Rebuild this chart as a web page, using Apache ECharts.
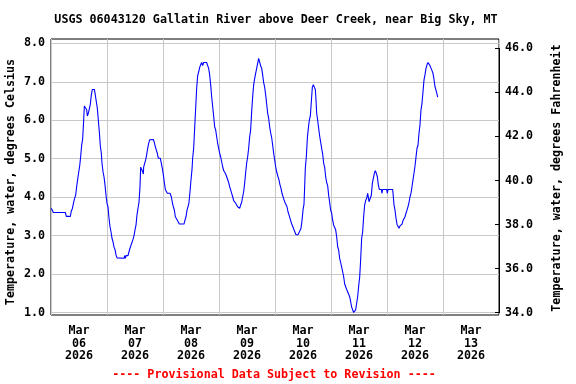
<!DOCTYPE html>
<html><head><meta charset="utf-8">
<script src="https://cdn.jsdelivr.net/npm/echarts@6/dist/echarts.min.js"></script>
<style>html,body{margin:0;padding:0;background:#fff}#c{width:576px;height:384px}</style>
</head><body><div id="c"></div>
<script>
const titleText = 'USGS 06043120 Gallatin River above Deer Creek, near Big Sky, MT';
const leftAxisName = 'Temperature, water, degrees Celsius';
const rightAxisName = 'Temperature, water, degrees Fahrenheit';
const footerText = '---- Provisional Data Subject to Revision ----';
const dayLabels = ['Mar\n06\n2026','Mar\n07\n2026','Mar\n08\n2026','Mar\n09\n2026','Mar\n10\n2026','Mar\n11\n2026','Mar\n12\n2026','Mar\n13\n2026'];
// hours since 2026-03-06 00:00
const hours = [0.14,1.0,6.14,6.57,8.29,8.71,9.14,9.57,10.0,10.57,11.0,11.43,11.86,12.29,12.71,13.14,13.57,14.0,14.29,14.71,15.29,15.57,16.0,16.43,16.86,17.29,17.71,18.57,19.0,19.43,19.86,20.29,20.71,21.14,21.57,21.86,22.29,22.71,23.14,23.57,24.0,24.43,24.86,25.29,25.71,26.14,26.57,27.0,27.43,27.86,28.29,28.71,31.29,31.57,31.86,32.14,33.0,33.43,33.86,34.29,34.71,35.14,35.57,36.0,36.43,36.86,37.29,37.71,38.14,38.43,38.86,39.29,39.57,39.71,40.14,40.57,41.0,41.43,41.86,42.29,42.71,43.86,44.29,44.71,45.14,45.57,46.0,46.86,47.29,47.71,48.14,48.57,49.0,49.43,49.86,51.0,51.57,52.0,52.43,52.86,53.29,53.71,54.14,54.57,55.0,57.0,57.43,57.86,58.29,58.71,59.14,59.57,60.0,60.43,60.71,61.14,61.57,62.0,62.43,62.86,63.29,63.71,64.14,64.57,65.0,65.43,66.71,67.14,67.57,68.0,68.43,68.86,69.29,69.71,70.14,70.57,71.0,71.43,71.86,72.29,72.71,73.14,73.57,74.0,74.43,74.86,75.29,75.71,76.14,76.57,77.0,77.43,77.86,78.29,78.71,79.14,79.57,80.0,80.43,80.86,81.29,81.71,82.14,82.57,83.0,83.43,83.86,84.29,84.71,85.14,85.57,86.0,86.43,86.86,87.29,87.71,88.14,88.57,89.0,89.43,89.86,90.29,90.71,91.14,91.57,92.0,92.43,92.86,93.29,93.71,94.14,94.57,95.0,95.43,95.86,96.29,96.71,97.29,97.71,98.14,98.57,99.0,99.43,99.86,100.29,100.71,101.14,101.57,102.0,102.43,102.86,103.29,103.71,104.14,104.57,105.0,105.86,106.29,106.71,107.14,107.57,108.0,108.43,108.71,109.0,109.43,109.86,110.29,110.71,111.14,111.57,112.0,112.43,112.86,113.29,113.57,113.86,114.29,114.71,115.14,115.57,116.0,116.43,116.86,117.29,117.71,118.14,118.57,119.0,119.43,119.86,120.29,120.71,121.14,121.57,122.0,122.43,122.86,123.29,123.71,124.14,124.57,125.0,125.43,125.86,126.29,126.71,127.14,127.57,128.0,128.43,128.86,129.29,129.71,130.14,130.57,131.0,131.43,131.86,132.29,132.71,133.14,133.57,134.0,134.43,134.86,135.29,135.71,136.0,136.29,136.71,137.0,137.29,137.71,138.14,138.57,139.0,139.43,139.86,140.29,140.71,141.57,141.86,142.14,143.86,144.14,144.43,146.43,146.71,147.0,147.43,147.86,148.29,148.71,149.14,149.57,150.0,150.43,150.86,151.29,151.71,152.14,152.57,153.0,153.43,153.86,154.29,154.71,155.14,155.57,156.0,156.43,156.86,157.29,157.71,158.14,158.57,159.0,159.43,159.86,160.29,160.71,161.14,161.57,162.0,162.43,162.86,163.29,163.71,164.14,164.57,165.0,165.43,165.71];
const tempC = [3.71,3.60,3.60,3.50,3.50,3.64,3.70,3.74,3.94,4.05,4.27,4.46,4.64,4.81,5.05,5.35,5.51,6.00,6.37,6.42,6.27,6.11,6.18,6.22,6.42,6.66,6.80,6.80,6.65,6.48,6.31,6.00,5.70,5.33,5.14,4.88,4.66,4.53,4.32,4.05,3.84,3.75,3.45,3.23,3.10,2.93,2.84,2.70,2.64,2.50,2.42,2.41,2.41,2.48,2.41,2.48,2.48,2.58,2.67,2.75,2.80,2.90,2.99,3.15,3.27,3.54,3.71,3.86,4.27,4.78,4.81,4.66,4.60,4.78,4.88,4.97,5.10,5.27,5.40,5.49,5.50,5.50,5.42,5.31,5.22,5.14,5.01,5.01,4.88,4.75,4.58,4.38,4.20,4.17,4.10,4.10,4.01,3.86,3.75,3.66,3.49,3.45,3.40,3.38,3.30,3.30,3.40,3.49,3.66,3.75,3.86,4.14,4.45,4.72,5.01,5.27,5.79,6.31,6.83,7.16,7.26,7.37,7.44,7.50,7.42,7.50,7.50,7.42,7.35,7.18,6.92,6.61,6.35,6.11,5.83,5.75,5.57,5.40,5.27,5.14,5.05,4.92,4.79,4.69,4.64,4.60,4.53,4.49,4.38,4.27,4.19,4.10,4.01,3.91,3.86,3.84,3.80,3.75,3.71,3.71,3.80,3.86,4.01,4.14,4.36,4.64,4.88,5.05,5.27,5.57,5.75,6.22,6.61,6.92,7.09,7.22,7.35,7.48,7.61,7.58,7.41,7.35,7.18,6.98,6.86,6.66,6.42,6.18,6.05,5.83,5.67,5.55,5.35,5.14,4.97,4.79,4.66,4.53,4.45,4.32,4.23,4.10,4.05,3.93,3.86,3.83,3.75,3.62,3.54,3.45,3.36,3.28,3.23,3.15,3.10,3.02,3.02,3.06,3.13,3.19,3.39,3.66,3.82,4.27,4.75,5.05,5.53,5.79,6.00,6.11,6.48,6.86,6.92,6.86,6.80,6.53,6.18,6.00,5.79,5.59,5.57,5.27,5.12,4.88,4.78,4.53,4.38,4.30,4.05,3.86,3.66,3.58,3.40,3.27,3.23,3.15,2.97,2.71,2.62,2.41,2.30,2.28,2.06,1.93,1.74,1.67,1.60,1.54,1.50,1.41,1.28,1.14,1.07,1.00,1.02,1.07,1.24,1.41,1.69,1.92,2.37,2.93,3.10,3.49,3.80,3.91,3.97,4.10,4.00,3.88,3.88,3.83,4.05,4.36,4.49,4.62,4.69,4.62,4.53,4.32,4.20,4.20,4.10,4.20,4.20,4.10,4.20,4.20,4.01,3.80,3.66,3.45,3.29,3.25,3.19,3.25,3.25,3.30,3.39,3.40,3.49,3.58,3.66,3.75,3.86,4.01,4.10,4.27,4.45,4.62,4.81,5.04,5.27,5.35,5.66,5.88,6.27,6.44,6.74,7.05,7.18,7.35,7.44,7.50,7.46,7.42,7.40,7.29,7.22,7.06,6.87,6.78,6.68,6.60];

const FONT = 'DejaVu Sans Mono';
const txt = {fontFamily: FONT, fontWeight: 'bold', fontSize: 11.7, color: '#000'};
const grey = '#c8c8c8';

const chart = echarts.init(document.getElementById('c'), null, {renderer: 'canvas'});
chart.setOption({
  animation: false,
  backgroundColor: '#fff',
  grid: [
    {left: 51, right: 77, top: 39, bottom: 69, show: true, borderColor: '#000', borderWidth: 1, backgroundColor: 'rgba(0,0,0,0)'},
    {left: 51, right: 77, top: 43.3, bottom: 71.5},
    {left: 51, right: 77, top: 48.3, bottom: 71.3}
  ],
  xAxis: [
    {gridIndex: 0, type: 'category', data: dayLabels, boundaryGap: true,
     axisLine: {show: false}, axisTick: {show: false},
     splitLine: {show: true, interval: 0, lineStyle: {color: grey, width: 1}},
     axisLabel: Object.assign({interval: 0, margin: 10, lineHeight: 12.5}, txt)},
    {gridIndex: 1, type: 'value', min: 0, max: 192, show: false},
    {gridIndex: 2, type: 'value', min: 0, max: 1, show: false}
  ],
  yAxis: [
    {gridIndex: 0, type: 'value', min: 0, max: 1, show: false},
    {gridIndex: 1, type: 'value', min: 1, max: 8, interval: 1,
     axisLine: {show: false, onZero: false}, axisTick: {show: false},
     splitLine: {show: true, lineStyle: {color: grey, width: 1}},
     axisLabel: Object.assign({margin: 6, formatter: v => v.toFixed(1)}, txt)},
    {gridIndex: 2, type: 'value', position: 'right', min: 34, max: 46, interval: 2,
     axisLine: {show: true, onZero: false, lineStyle: {color: '#000', width: 1}},
     axisTick: {show: true, inside: true, length: 4, lineStyle: {color: '#000', width: 1}},
     splitLine: {show: false},
     axisLabel: Object.assign({margin: 6, formatter: v => v.toFixed(1)}, txt)}
  ],
  series: [{
    type: 'line', xAxisIndex: 1, yAxisIndex: 1,
    data: hours.map((h, i) => [h, tempC[i]]),
    showSymbol: false, symbol: 'none',
    lineStyle: {color: '#0000ff', width: 1.1},
    z: 5
  }],
  graphic: [
    {type: 'text', x: 276, y: 20, style: {text: titleText, textAlign: 'center', textVerticalAlign: 'middle', fontFamily: FONT, fontWeight: 'bold', fontSize: 11.7, fill: '#000'}},
    {type: 'text', x: 11, y: 182, rotation: Math.PI / 2, style: {text: leftAxisName, textAlign: 'center', textVerticalAlign: 'middle', fontFamily: FONT, fontWeight: 'bold', fontSize: 11.7, fill: '#000'}},
    {type: 'text', x: 557, y: 178, rotation: Math.PI / 2, style: {text: rightAxisName, textAlign: 'center', textVerticalAlign: 'middle', fontFamily: FONT, fontWeight: 'bold', fontSize: 11.7, fill: '#000'}},
    {type: 'text', x: 274, y: 375, style: {text: footerText, textAlign: 'center', textVerticalAlign: 'middle', fontFamily: FONT, fontWeight: 'bold', fontSize: 11.7, fill: '#ff0000'}}
  ]
});
</script>
</body></html>
